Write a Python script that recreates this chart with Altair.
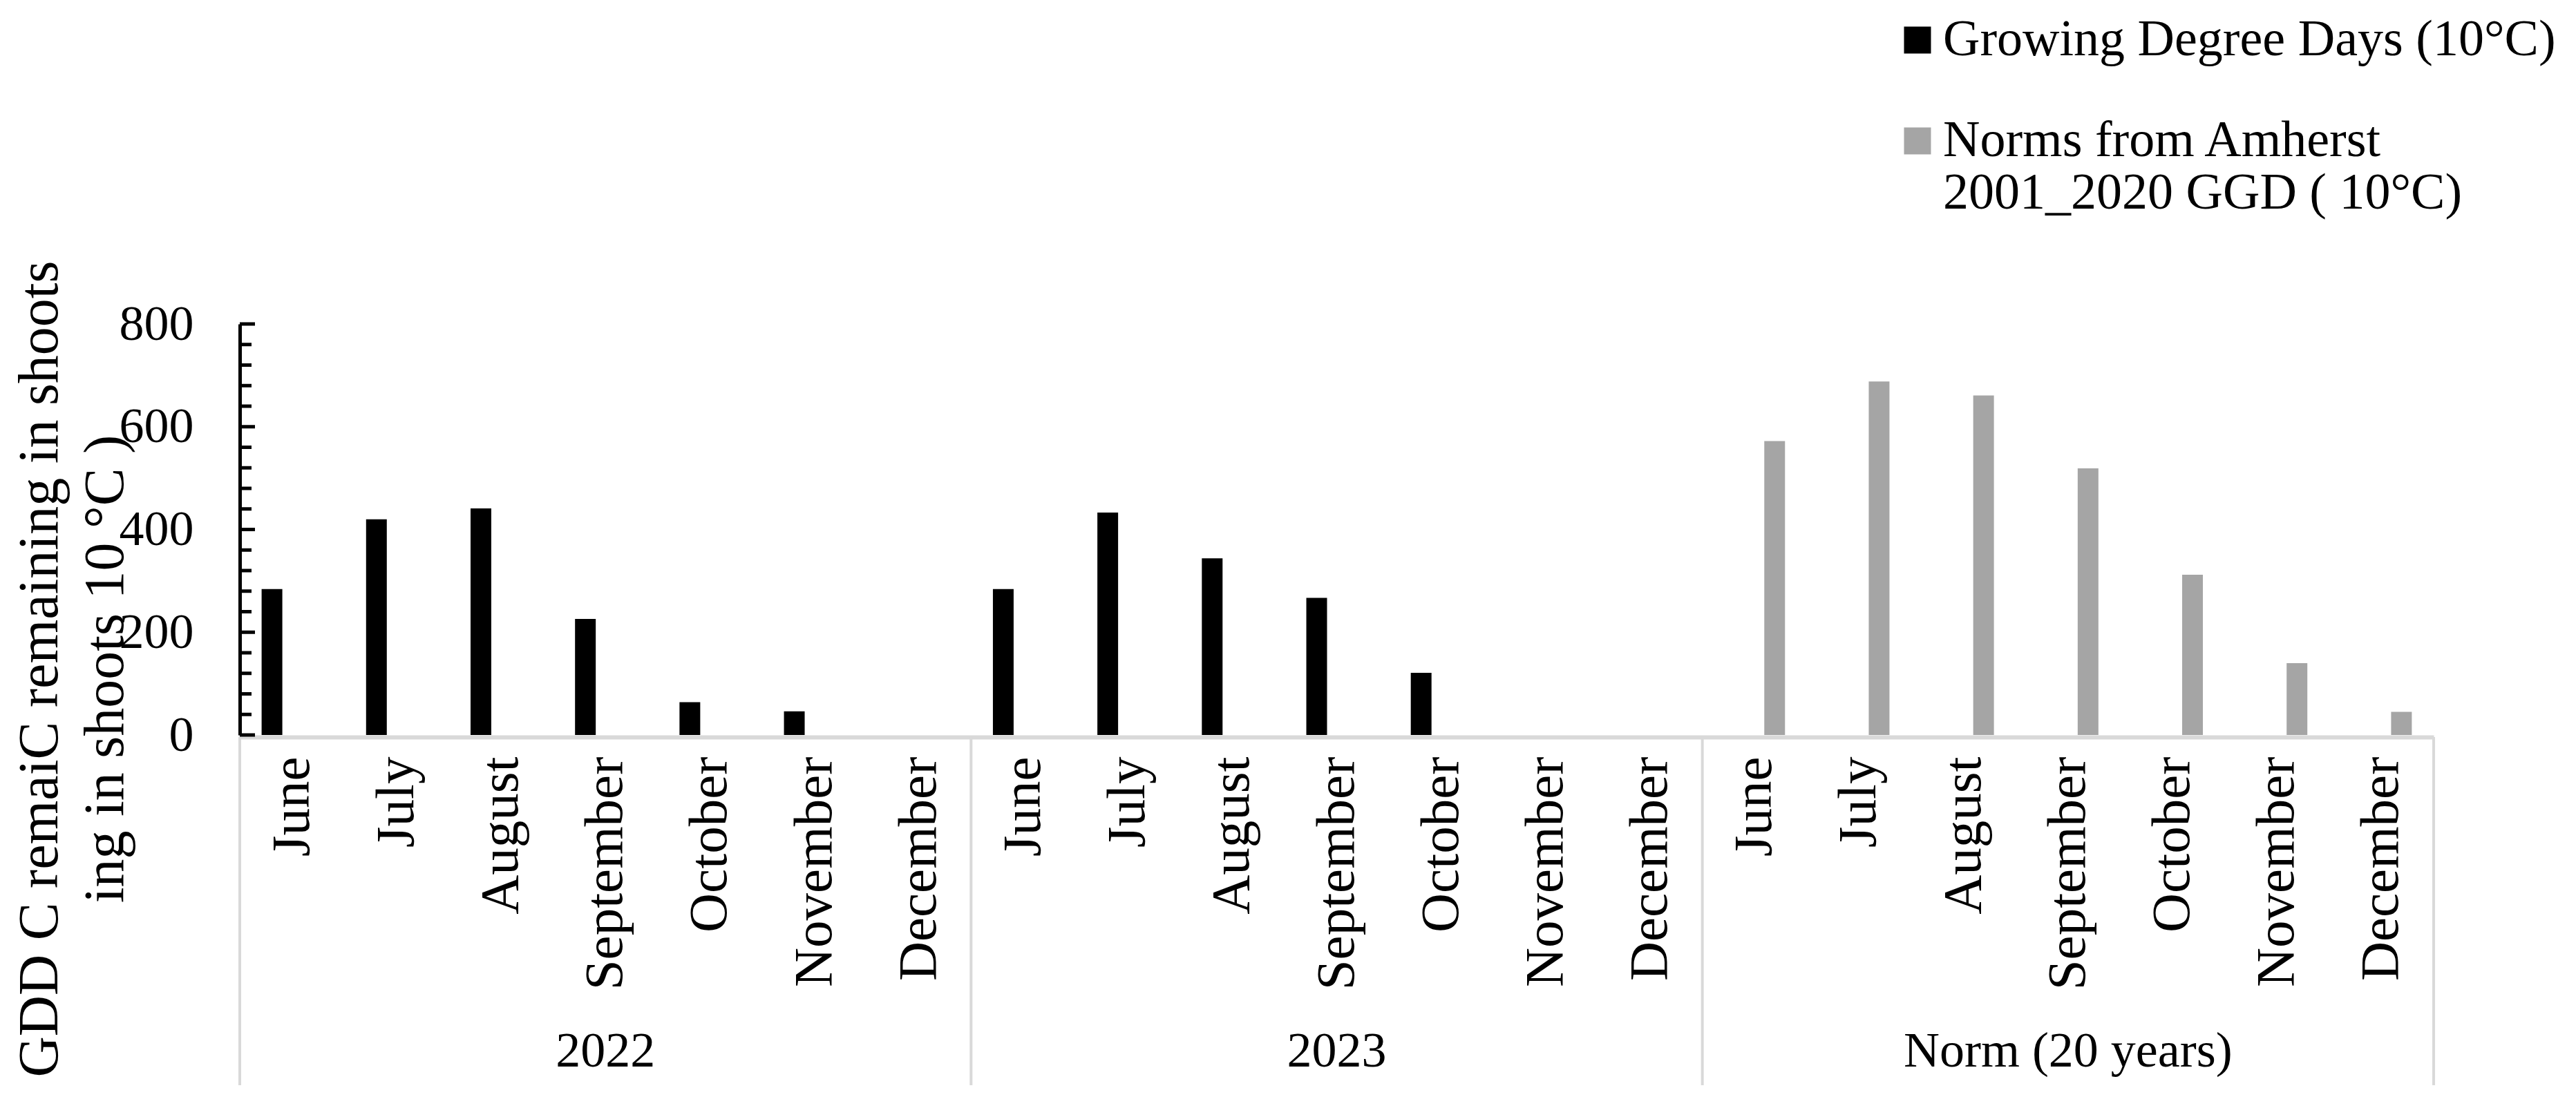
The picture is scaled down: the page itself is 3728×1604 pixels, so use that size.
import altair as alt
import pandas as pd

# ---------------- data ----------------
groups = ["2022", "2023", "Norm (20 years)"]
months = ["June", "July", "August", "September", "October", "November", "December"]
series_names = ["Growing Degree Days (10°C)", "Norms from Amherst|2001_2020 GGD ( 10°C)"]
series_colors = ["#000000", "#a5a5a5"]

gdd_2022 = [284, 420, 441, 226, 64, 46, 0]
gdd_2023 = [284, 433, 344, 267, 121, 0, 0]
norm_20y = [572, 688, 661, 519, 312, 140, 45]

y_major = [0, 200, 400, 600, 800]
y_minor = [40, 80, 120, 160, 240, 280, 320, 360, 440, 480, 520, 560, 640, 680, 720, 760]

y_title = ["GDD C remaiC remaining in shoots", "ing in shoots 10 °C )"]

FONT = "Liberation Serif"

rows = []
for g, vals, s in [(groups[0], gdd_2022, series_names[0]),
                   (groups[1], gdd_2023, series_names[0]),
                   (groups[2], norm_20y, series_names[1])]:
    for m, v in zip(months, vals):
        rows.append({"cat": f"{g}|{m}", "group": g, "month": m, "series": s, "value": v})
df = pd.DataFrame(rows)
cats = list(df["cat"])

W, H = 3175, 595

x_scale = alt.Scale(domain=cats, paddingInner=0, paddingOuter=0)

bars = alt.Chart(df).mark_bar().encode(
    x=alt.X("cat:N", scale=x_scale, sort=cats, title=None,
            axis=alt.Axis(labelExpr="split(datum.label, '|')[1]", labelAngle=270,
                          labelFont=FONT, labelFontSize=79, labelColor="#000000",
                          labelPadding=28, labelOverlap=False, labelBound=False,
                          ticks=False, domainColor="#d9d9d9", domainWidth=6, offset=3,
                          grid=False, labelLimit=0)),
    xOffset=alt.XOffset("series:N", scale=alt.Scale(domain=series_names,
                                                    paddingInner=0.483, paddingOuter=0.545)),
    y=alt.Y("value:Q", scale=alt.Scale(domain=[0, 800], nice=False),
            axis=alt.Axis(values=y_major, ticks=False, grid=False, domainColor="#000000",
                          domainWidth=5, labelFont=FONT, labelFontSize=72,
                          labelColor="#000000", labelPadding=67,
                          title=y_title, titleFont=FONT, titleFontSize=82,
                          titleFontWeight="normal", titleColor="#000000",
                          titleAngle=270, titleAlign="center", titleBaseline="top",
                          titleX=-330, titleY=499, titleLineHeight=95)),
    color=alt.Color("series:N", scale=alt.Scale(domain=series_names, range=series_colors),
                    legend=alt.Legend(title=None, orient="none", legendX=2391, legendY=-448,
                                      direction="vertical", symbolType="square",
                                      symbolSize=1521, symbolStrokeWidth=0,
                                      labelFont=FONT, labelFontSize=74, labelColor="#000000",
                                      labelExpr="split(datum.label, '|')", labelLimit=0,
                                      labelOffset=0, rowPadding=72)),
)

major_df = pd.DataFrame({"value": y_major})
minor_df = pd.DataFrame({"value": y_minor})
major_ticks = alt.Chart(major_df).mark_rule(color="#000000", strokeWidth=5).encode(
    y="value:Q", x=alt.value(0), x2=alt.value(22))
minor_ticks = alt.Chart(minor_df).mark_rule(color="#000000", strokeWidth=5).encode(
    y="value:Q", x=alt.value(0), x2=alt.value(17))

sep_left = pd.DataFrame({"cat": [f"{g}|{months[0]}" for g in groups]})
sep_right = pd.DataFrame({"cat": [f"{groups[-1]}|{months[-1]}"]})
seps_l = alt.Chart(sep_left).mark_rule(color="#d9d9d9", strokeWidth=4).encode(
    x=alt.X("cat:N", bandPosition=0), y=alt.value(H + 3), y2=alt.value(1102))
seps_r = alt.Chart(sep_right).mark_rule(color="#d9d9d9", strokeWidth=4).encode(
    x=alt.X("cat:N", bandPosition=1), y=alt.value(H + 3), y2=alt.value(1102))

grp_df = pd.DataFrame({"cat": [f"{g}|{months[3]}" for g in groups], "group": groups})
grp_text = alt.Chart(grp_df).mark_text(font=FONT, fontSize=72, color="#000000",
                                       baseline="middle", align="center").encode(
    x=alt.X("cat:N", bandPosition=0.5), y=alt.value(1053), text="group:N")

chart = alt.layer(bars, major_ticks, minor_ticks, seps_l, seps_r, grp_text).properties(
    width=W, height=H,
    autosize=alt.AutoSizeParams(type="none"),
    padding={"left": 339, "top": 461, "right": 190, "bottom": 520},
    background="white",
).configure(font=FONT).configure_view(stroke=None)

chart.save("out.html", embed_options={"renderer": "svg", "actions": False})
